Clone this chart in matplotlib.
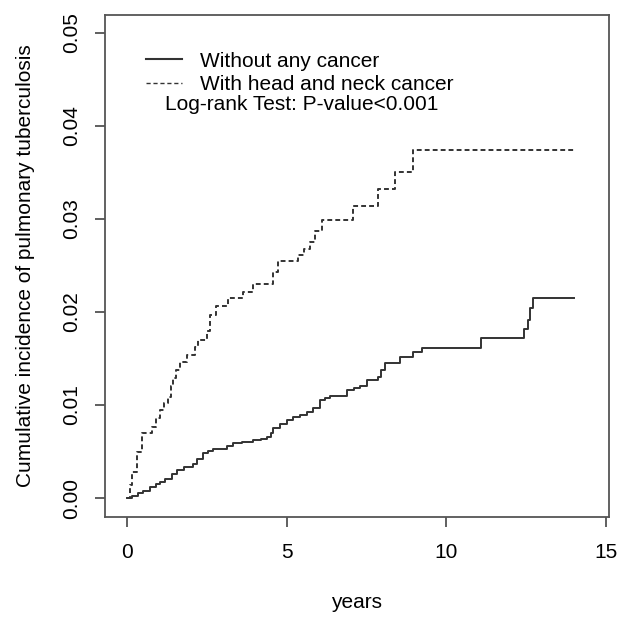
import matplotlib
matplotlib.use('Agg')
import matplotlib.pyplot as plt
from matplotlib.lines import Line2D

plt.rcParams['font.family'] = ['Liberation Sans', 'DejaVu Sans']

# head and neck cancer group (dashed)
hn_time = [0, 0.08, 0.16, 0.30, 0.47, 0.78, 0.90, 1.03, 1.15, 1.29, 1.38, 1.45,
           1.55, 1.66, 1.88, 2.13, 2.23, 2.50, 2.60, 2.80, 3.17, 3.64, 3.95,
           4.58, 4.73, 5.36, 5.55, 5.74, 5.90, 6.11, 7.08, 7.87, 8.40, 8.97, 14.04]
hn_cum = [0, 0.0014, 0.0028, 0.0050, 0.0070, 0.0076, 0.0086, 0.0095, 0.0102,
          0.0109, 0.0120, 0.0129, 0.0138, 0.0146, 0.0154, 0.0162, 0.0170, 0.0180,
          0.0197, 0.0206, 0.0215, 0.0222, 0.0230, 0.0243, 0.0255, 0.0261, 0.0268,
          0.0275, 0.0287, 0.0299, 0.0314, 0.0332, 0.0351, 0.0374, 0.0374]

# comparison group without cancer (solid)
nc_time = [0, 0.15, 0.34, 0.50, 0.72, 0.90, 1.03, 1.20, 1.40, 1.57, 1.80, 2.07,
           2.20, 2.38, 2.55, 2.70, 3.13, 3.32, 3.60, 3.95, 4.20, 4.39, 4.50, 4.58,
           4.80, 5.01, 5.20, 5.42, 5.64, 5.83, 6.05, 6.20, 6.36, 6.90, 7.10, 7.30,
           7.52, 7.87, 7.95, 8.09, 8.56, 8.97, 9.25, 11.10, 12.45, 12.57, 12.63,
           12.73, 14.00]
nc_cum = [0, 0.0002, 0.0005, 0.0008, 0.0012, 0.0015, 0.0017, 0.0021, 0.0026,
          0.0030, 0.0033, 0.0037, 0.0042, 0.0048, 0.0051, 0.0053, 0.0056, 0.0059,
          0.0060, 0.0062, 0.0064, 0.0066, 0.0070, 0.0075, 0.0080, 0.0084, 0.0087,
          0.0089, 0.0092, 0.0097, 0.0105, 0.0108, 0.0110, 0.0116, 0.0118, 0.0120,
          0.0127, 0.0130, 0.0138, 0.0145, 0.0152, 0.0157, 0.0161, 0.0172, 0.0182,
          0.0191, 0.0204, 0.0215, 0.0215]

x_ticks = [0, 5, 10, 15]
y_ticks = [0.00, 0.01, 0.02, 0.03, 0.04, 0.05]
labels = ['Without any cancer', 'With head and neck cancer']

line_col = '#333333'
fs = 15

fig = plt.figure(figsize=(6.19, 6.18), dpi=100)
ax = fig.add_axes([0.1696, 0.1634, 0.8142, 0.8123])

ax.plot(nc_time, nc_cum, drawstyle='steps-post', color=line_col, lw=1.4)
ax.plot(hn_time, hn_cum, drawstyle='steps-post', color=line_col, lw=1.4,
        dashes=(2.5, 1.6))

ax.set_xlim(-0.69, 15.1)
ax.set_ylim(-0.00204, 0.05194)
ax.set_xticks(x_ticks)
ax.set_yticks(y_ticks)
ax.set_xticklabels([str(t) for t in x_ticks])
ax.set_yticklabels([f'{t:.2f}' for t in y_ticks], rotation=90, va='center')
ax.tick_params(length=7, width=1.2, color='#444444', labelsize=fs)
ax.tick_params(axis='y', pad=10)
ax.tick_params(axis='x', pad=12)

for s in ax.spines.values():
    s.set_color('#555555')
    s.set_linewidth(1.3)

ax.set_xlabel('years', fontsize=fs, labelpad=22)
ax.set_ylabel('Cumulative incidence of pulmonary tuberculosis', fontsize=fs,
              labelpad=20)

handles = [Line2D([], [], color=line_col, lw=1.5),
           Line2D([], [], color=line_col, lw=1.0, dashes=(3, 2))]
ax.legend(handles, labels, loc='upper left', bbox_to_anchor=(0.081, 0.927),
          frameon=False, fontsize=fs, borderpad=0, borderaxespad=0,
          handlelength=1.75, handletextpad=0.85, labelspacing=0.2)
ax.text(0.119, 0.821, 'Log-rank Test: P-value<0.001', transform=ax.transAxes,
        fontsize=fs, va='center', ha='left')

fig.savefig('out.png', dpi=100)
